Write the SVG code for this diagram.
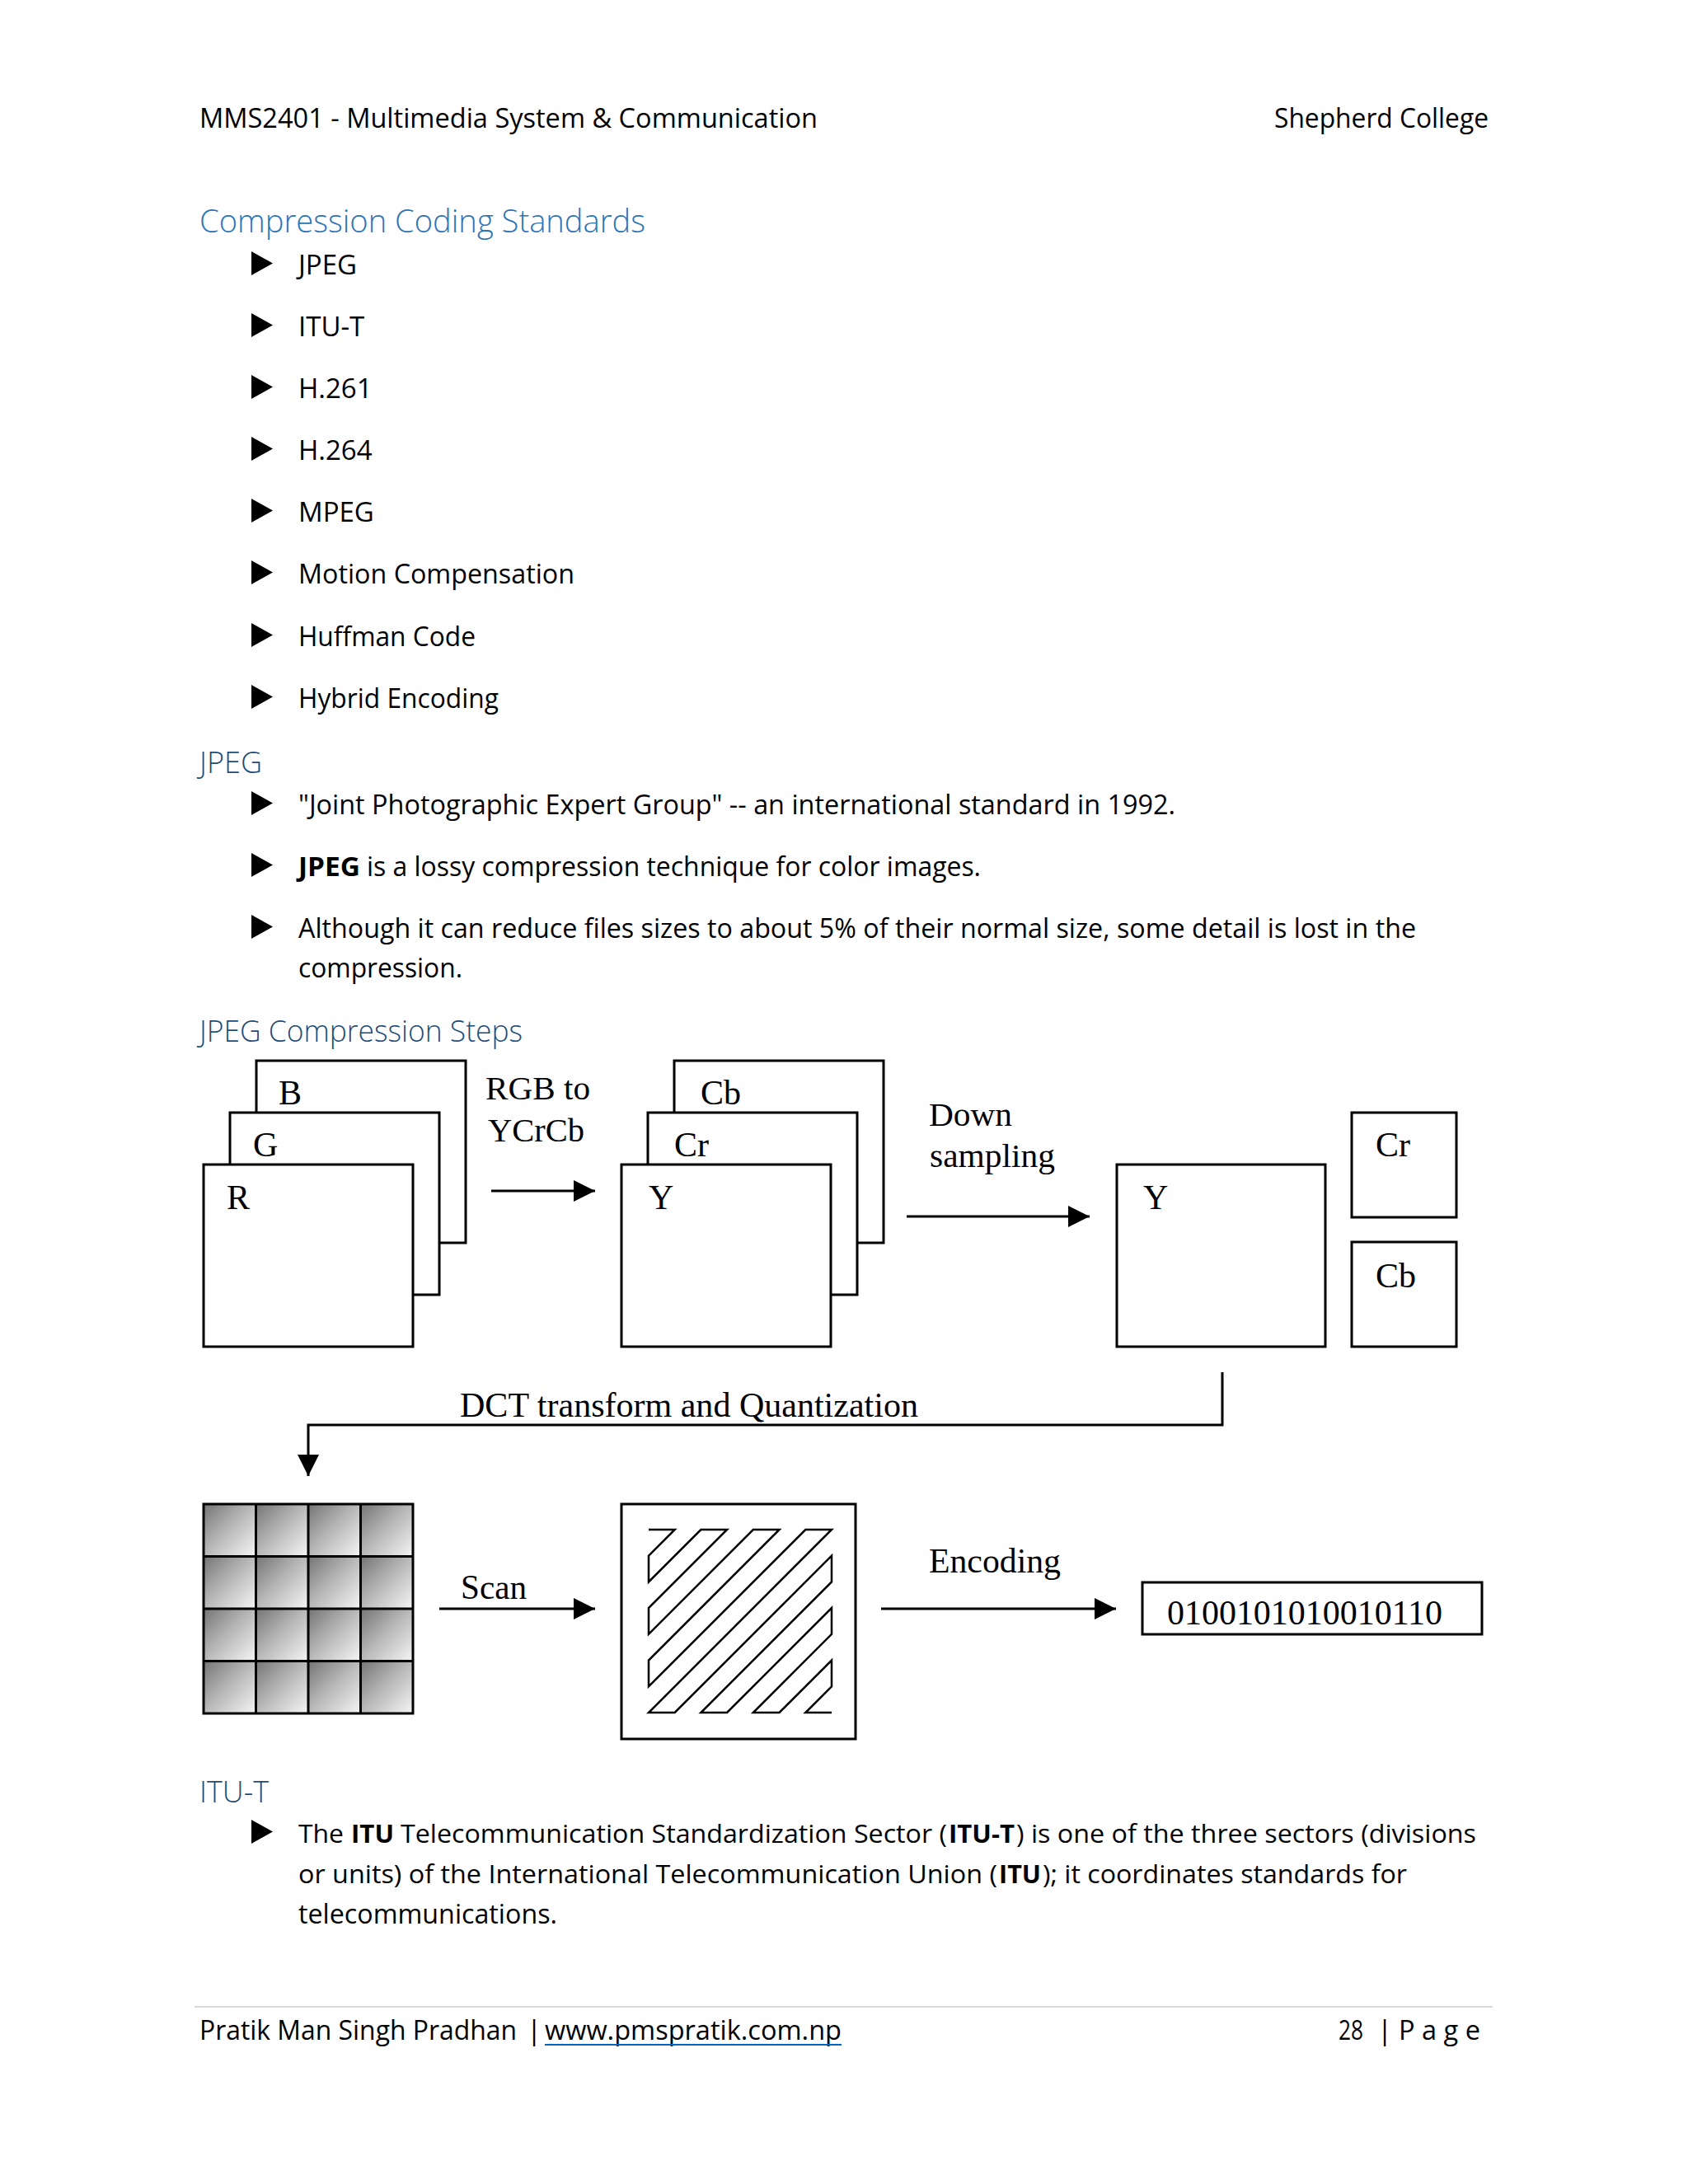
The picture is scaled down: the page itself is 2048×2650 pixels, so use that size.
<svg xmlns="http://www.w3.org/2000/svg" width="2048" height="2650" viewBox="0 0 2048 2650">
<style>
.body{font-family:"Open Sans","Liberation Sans",sans-serif;font-size:33px;fill:#000}
.itu{font-size:31px}
.h1{font-family:"Open Sans","Liberation Sans",sans-serif;font-size:39px;font-weight:300;fill:#2E74B5}
.h3{font-family:"Open Sans","Liberation Sans",sans-serif;font-size:36px;font-weight:300;fill:#1F4D78}
.dg{font-family:"Liberation Serif","Times New Roman",serif;font-size:42px;fill:#000}
.dl{font-family:"Liberation Serif","Times New Roman",serif;font-size:39px;fill:#000}
.box{fill:#fff;stroke:#000;stroke-width:3}
.conn{fill:none;stroke:#000;stroke-width:3}
.b{font-weight:bold}
</style>
<defs>
<marker id="ah" markerUnits="userSpaceOnUse" markerWidth="28" markerHeight="28" refX="26" refY="13" orient="auto">
<path d="M0,0 L26,13 L0,26 z" fill="#000"/>
</marker>
<polygon id="bul" points="0,0 26,14.5 0,29" fill="#000"/>
<linearGradient id="cellg" x1="0" y1="0" x2="1" y2="1">
<stop offset="0" stop-color="#747474"/>
<stop offset="0.45" stop-color="#b4b4b4"/>
<stop offset="1" stop-color="#f6f6f6"/>
</linearGradient>
<pattern id="cellp" patternUnits="userSpaceOnUse" x="247" y="1825" width="63.5" height="63.5">
<rect width="63.5" height="63.5" fill="url(#cellg)"/>
</pattern>
</defs>
<rect width="2048" height="2650" fill="#fff"/>

<g id="header">
<text class="body" x="242" y="155" textLength="750" lengthAdjust="spacingAndGlyphs">MMS2401 - Multimedia System &amp; Communication</text>
<text class="body" x="1546" y="155" textLength="260" lengthAdjust="spacingAndGlyphs">Shepherd College</text>
</g>

<g id="section-standards">
<text class="h1" x="242" y="282" textLength="541" lengthAdjust="spacingAndGlyphs">Compression Coding Standards</text>
<use href="#bul" x="305" y="305"/><text class="body" x="362" y="333">JPEG</text>
<use href="#bul" x="305" y="380"/><text class="body" x="362" y="408">ITU-T</text>
<use href="#bul" x="305" y="455"/><text class="body" x="362" y="483">H.261</text>
<use href="#bul" x="305" y="530"/><text class="body" x="362" y="558">H.264</text>
<use href="#bul" x="305" y="605"/><text class="body" x="362" y="633">MPEG</text>
<use href="#bul" x="305" y="680"/><text class="body" x="362" y="708" textLength="335" lengthAdjust="spacingAndGlyphs">Motion Compensation</text>
<use href="#bul" x="305" y="756"/><text class="body" x="362" y="784" textLength="215" lengthAdjust="spacingAndGlyphs">Huffman Code</text>
<use href="#bul" x="305" y="831"/><text class="body" x="362" y="859" textLength="243" lengthAdjust="spacingAndGlyphs">Hybrid Encoding</text>
</g>

<g id="section-jpeg">
<text class="h3" x="242" y="938" textLength="76" lengthAdjust="spacingAndGlyphs">JPEG</text>
<use href="#bul" x="305" y="960"/><text class="body" x="362" y="988" textLength="1064" lengthAdjust="spacingAndGlyphs">"Joint Photographic Expert Group" -- an international standard in 1992.</text>
<use href="#bul" x="305" y="1035"/><text class="body b" x="362" y="1063" textLength="75" lengthAdjust="spacingAndGlyphs">JPEG</text><text class="body" x="445" y="1063" textLength="745" lengthAdjust="spacingAndGlyphs">is a lossy compression technique for color images.</text>
<use href="#bul" x="305" y="1110"/><text class="body" x="362" y="1138" textLength="1356" lengthAdjust="spacingAndGlyphs">Although it can reduce files sizes to about 5% of their normal size, some detail is lost in the</text>
<text class="body" x="362" y="1186" textLength="199" lengthAdjust="spacingAndGlyphs">compression.</text>
<text class="h3" x="242" y="1264" textLength="392" lengthAdjust="spacingAndGlyphs">JPEG Compression Steps</text>
</g>

<g id="node-rgb">
<rect class="box" x="311" y="1287" width="254" height="221"/>
<text class="dg" x="338" y="1340">B</text>
<rect class="box" x="279" y="1350" width="254" height="221"/>
<text class="dg" x="307" y="1403">G</text>
<rect class="box" x="247" y="1413" width="254" height="221"/>
<text class="dg" x="275" y="1467">R</text>
</g>

<g id="node-ycrcb">
<rect class="box" x="818" y="1287" width="254" height="221"/>
<text class="dg" x="850" y="1340">Cb</text>
<rect class="box" x="786" y="1350" width="254" height="221"/>
<text class="dg" x="818" y="1403">Cr</text>
<rect class="box" x="754" y="1413" width="254" height="221"/>
<text class="dg" x="787" y="1467">Y</text>
</g>

<g id="node-downsampled">
<rect class="box" x="1355" y="1413" width="253" height="221"/>
<text class="dg" x="1387" y="1467">Y</text>
<rect class="box" x="1640" y="1350" width="127" height="127"/>
<text class="dg" x="1669" y="1403">Cr</text>
<rect class="box" x="1640" y="1507" width="127" height="127"/>
<text class="dg" x="1669" y="1562">Cb</text>
</g>

<g id="node-dct-grid">
<rect x="247" y="1825" width="254" height="254" fill="url(#cellp)" stroke="#000" stroke-width="3"/>
<path d="M310.5,1825 V2079 M374,1825 V2079 M437.5,1825 V2079 M247,1888.5 H501 M247,1952 H501 M247,2015.5 H501" stroke="#000" stroke-width="3" fill="none"/>
</g>

<g id="node-zigzag">
<rect class="box" x="754" y="1825" width="284" height="285"/>
<path d="M787,1856 L818.7,1856 L787,1887.7 L787,1919.4 L850.4,1856 L882.1,1856 L787,1951.1 L787,1982.8 L913.8,1856 L945.6,1856 L787,2014.6 L787,2046.3 L977.3,1856 L1009,1856 L787,2078 L818.7,2078 L1009,1887.7 L1009,1919.4 L850.4,2078 L882.1,2078 L1009,1951.1 L1009,1982.8 L913.8,2078 L945.6,2078 L1009,2014.6 L1009,2046.3 L977.3,2078 L1009,2078" fill="none" stroke="#000" stroke-width="2.5" stroke-linejoin="miter"/>
</g>

<g id="node-bits">
<rect class="box" x="1386" y="1920" width="412" height="63"/>
<text class="dg" x="1416" y="1971" textLength="334" lengthAdjust="spacingAndGlyphs">0100101010010110</text>
</g>

<g id="connectors">
<path class="conn" d="M596,1445 H722" marker-end="url(#ah)"/>
<path class="conn" d="M1100,1476 H1322" marker-end="url(#ah)"/>
<path class="conn" d="M1483,1665 V1729 H374 V1791" marker-end="url(#ah)"/>
<path class="conn" d="M533,1952 H722" marker-end="url(#ah)"/>
<path class="conn" d="M1069,1952 H1354" marker-end="url(#ah)"/>
<text class="dl" x="589" y="1334" textLength="127" lengthAdjust="spacingAndGlyphs">RGB to</text>
<text class="dl" x="592" y="1385" textLength="117" lengthAdjust="spacingAndGlyphs">YCrCb</text>
<text class="dl" x="1127" y="1366" textLength="101" lengthAdjust="spacingAndGlyphs">Down</text>
<text class="dl" x="1128" y="1416" textLength="152" lengthAdjust="spacingAndGlyphs">sampling</text>
<text class="dg" x="558" y="1719" textLength="556" lengthAdjust="spacingAndGlyphs">DCT transform and Quantization</text>
<text class="dg" x="559" y="1940" textLength="80" lengthAdjust="spacingAndGlyphs">Scan</text>
<text class="dg" x="1127" y="1908" textLength="160" lengthAdjust="spacingAndGlyphs">Encoding</text>
</g>

<g id="section-itu">
<text class="h3" x="242" y="2187" textLength="84" lengthAdjust="spacingAndGlyphs">ITU-T</text>
<use href="#bul" x="305" y="2208"/>
<text class="body itu" x="362" y="2236" textLength="55" lengthAdjust="spacingAndGlyphs">The</text>
<text class="body itu b" x="426" y="2236" textLength="52" lengthAdjust="spacingAndGlyphs">ITU</text>
<text class="body itu" x="486" y="2236" textLength="663" lengthAdjust="spacingAndGlyphs">Telecommunication Standardization Sector (</text>
<text class="body itu b" x="1151" y="2236" textLength="80" lengthAdjust="spacingAndGlyphs">ITU-T</text>
<text class="body itu" x="1233" y="2236" textLength="558" lengthAdjust="spacingAndGlyphs">) is one of the three sectors (divisions</text>
<text class="body itu" x="362" y="2285" textLength="848" lengthAdjust="spacingAndGlyphs">or units) of the International Telecommunication Union (</text>
<text class="body itu b" x="1212" y="2285" textLength="51" lengthAdjust="spacingAndGlyphs">ITU</text>
<text class="body itu" x="1265" y="2285" textLength="442" lengthAdjust="spacingAndGlyphs">); it coordinates standards for</text>
<text class="body" x="362" y="2334" textLength="314" lengthAdjust="spacingAndGlyphs">telecommunications.</text>
</g>

<g id="footer">
<line x1="236" y1="2435" x2="1811" y2="2435" stroke="#d9d9d9" stroke-width="2"/>
<text class="body" x="242" y="2475" textLength="385" lengthAdjust="spacingAndGlyphs">Pratik Man Singh Pradhan</text>
<text class="body" x="639" y="2475">|</text>
<text class="body" x="661" y="2475" textLength="360" lengthAdjust="spacingAndGlyphs" fill="#0563C1">www.pmspratik.com.np</text>
<line x1="661" y1="2481" x2="1021" y2="2481" stroke="#0563C1" stroke-width="2"/>
<text class="body" x="1624" y="2475" textLength="30" lengthAdjust="spacingAndGlyphs">28</text>
<text class="body" x="1671" y="2475">|</text>
<text class="body" x="1697" y="2475" textLength="99" lengthAdjust="spacingAndGlyphs" fill="#7f7f7f">P a g e</text>
</g>
</svg>
